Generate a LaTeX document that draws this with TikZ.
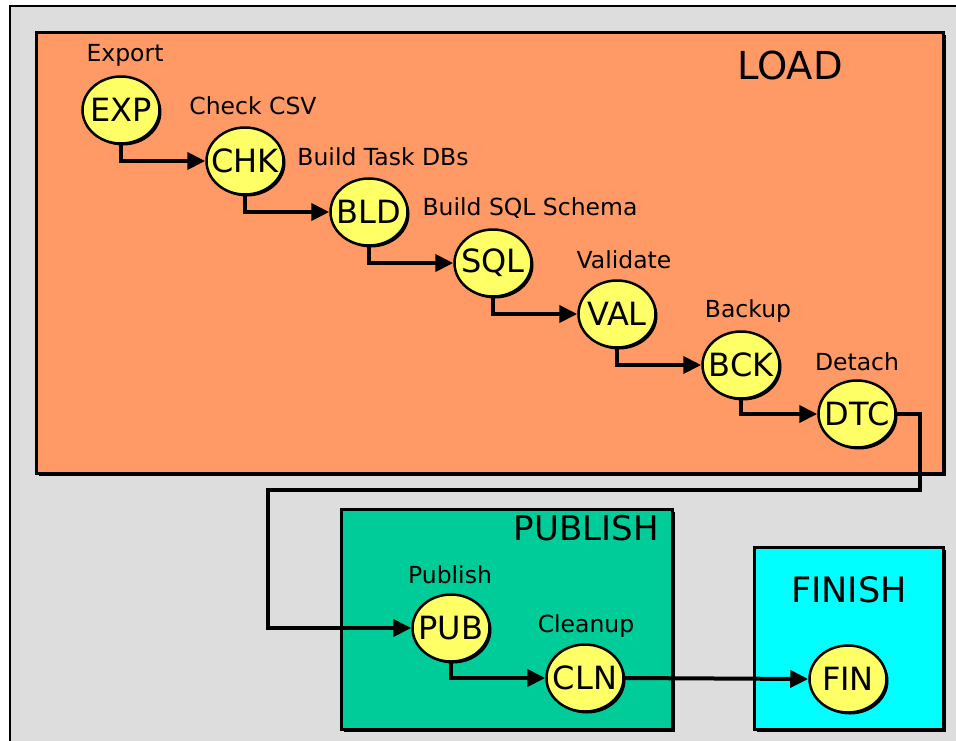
\documentclass[tikz,border=0pt]{standalone}
\usepackage{fontspec}
\setmainfont{DejaVu Sans}
\usetikzlibrary{shapes.geometric,arrows.meta,shadows}

\definecolor{panelgray}{HTML}{DDDDDD}
\definecolor{loadfill}{HTML}{FF9966}
\definecolor{pubfill}{HTML}{00CC99}
\definecolor{finfill}{HTML}{00FFFF}
\definecolor{taskfill}{HTML}{FFFF66}

% task code set without widening its ellipse
\newcommand\taskcode[1]{\makebox[0pt]{#1}}

\begin{document}
\begin{tikzpicture}[x=1pt,y=-1pt,
  stage/.style={draw=black, line width=3pt, fill=#1, anchor=north west, inner sep=0pt,
    drop shadow={shadow xshift=2.5pt, shadow yshift=-2.5pt, fill=black, opacity=1}},
  task/.style={ellipse, draw=black, line width=2.5pt, fill=taskfill,
    minimum width=77pt, minimum height=67pt, inner sep=0pt,
    font=\fontsize{32}{32}\selectfont,
    drop shadow={shadow xshift=2pt, shadow yshift=-2pt, fill=black, opacity=1}},
  caption/.style={font=\fontsize{23.5}{23.5}\selectfont, inner sep=0pt},
  stagetitle/.style={font=\fontsize{#1}{#1}\selectfont, inner sep=0pt},
  flow/.style={line width=4pt, -{Triangle[length=18pt,width=17pt]}}
]
\useasboundingbox (0,0) rectangle (956,740);
\clip (0,0) rectangle (956,740);

% outer panel
\fill[white] (0,0) rectangle (956,740);
\draw[fill=panelgray, line width=2.5pt] (10,6) rectangle (975,760);

% stage boxes
\node[stage=loadfill, minimum width=907pt, minimum height=441pt] (load) at (35,31) {};
\node[stage=pubfill, minimum width=331pt, minimum height=220pt] (publish) at (340,508) {};
\node[stage=finfill, minimum width=189pt, minimum height=182pt] (finish) at (753,546) {};

\node[stagetitle=38.5, anchor=east] (loadtitle) at (843,65) {LOAD};
\node[stagetitle=34, anchor=east] (pubtitle) at (659,528) {PUBLISH};
\node[stagetitle=35] (fintitle) at (849,590) {FINISH};

% tasks
\node[task] (exp) at (121,110) {\taskcode{EXP}};
\node[task] (chk) at (245,161) {\taskcode{CHK}};
\node[task] (bld) at (369,212) {\taskcode{BLD}};
\node[task] (sql) at (493,263) {\taskcode{SQL}};
\node[task] (val) at (617,314) {\taskcode{VAL}};
\node[task] (bck) at (741,365) {\taskcode{BCK}};
\node[task] (dtc) at (857,414) {\taskcode{DTC}};
\node[task] (pub) at (451,628) {\taskcode{PUB}};
\node[task] (cln) at (585,678) {\taskcode{CLN}};
\node[task] (fin) at (848,679) {\taskcode{FIN}};

% task captions
\node[caption] (expcap) at (125,55) {Export};
\node[caption] (chkcap) at (253,106) {Check CSV};
\node[caption] (bldcap) at (383,157) {Build Task DBs};
\node[caption] (sqlcap) at (530,208) {Build SQL Schema};
\node[caption] (valcap) at (624,260) {Validate};
\node[caption] (bckcap) at (748,311) {Backup};
\node[caption] (dtccap) at (857,362) {Detach};
\node[caption] (pubcap) at (450,575) {Publish};
\node[caption] (clncap) at (586,626) {Cleanup};

% flow connectors
\draw[flow] (exp.south) |- (chk.west);
\draw[flow] (chk.south) |- (bld.west);
\draw[flow] (bld.south) |- (sql.west);
\draw[flow] (sql.south) |- (val.west);
\draw[flow] (val.south) |- (bck.west);
\draw[flow] (bck.south) |- (dtc.west);
\coordinate (turnA) at (920,490);
\coordinate (turnB) at (268,490);
\draw[flow] (dtc.east) -| (turnA) -- (turnB) |- (pub.west);
\draw[flow] (pub.south) |- (cln.west);
\draw[flow] (cln.east) -- (fin.west);
\end{tikzpicture}
\end{document}
